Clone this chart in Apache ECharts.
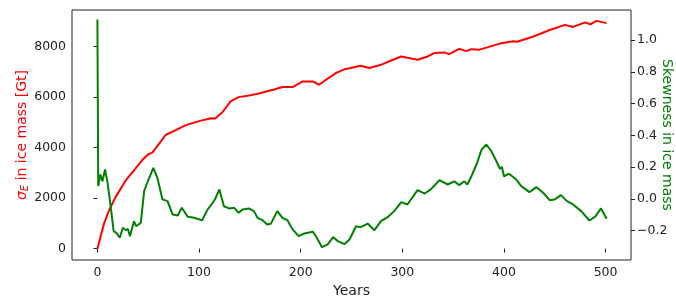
<!DOCTYPE html>
<html>
<head>
<meta charset="utf-8">
<script src="https://cdn.jsdelivr.net/npm/echarts@6/dist/echarts.min.js"></script>
<style>
    html, body { margin: 0; padding: 0; background: #fff; }
    #chart { width: 676px; height: 298px; }
</style>
</head>
<body>
<div id="chart"></div>
<script>
// years / sigma_E (Gt)
var sigmaYears = [0, 3, 6.5, 11.5, 18, 28, 36, 44, 50, 54, 61, 67, 77, 87, 100, 112, 116, 123, 131, 139, 149, 159, 167, 174, 182, 192, 202, 212, 218, 225, 235, 243, 249.5, 259, 267.5, 279, 289, 299, 315, 325, 332, 341.5, 346, 356, 363, 368, 376, 386, 396, 409, 413, 429, 445, 460, 468, 480, 485, 491, 501];
var sigmaVals = [0, 460, 990, 1520, 2050, 2710, 3100, 3500, 3740, 3800, 4170, 4500, 4690, 4890, 5050, 5160, 5150, 5400, 5830, 6000, 6060, 6140, 6230, 6300, 6400, 6400, 6620, 6620, 6490, 6690, 6960, 7100, 7150, 7240, 7150, 7280, 7450, 7610, 7480, 7610, 7750, 7770, 7700, 7910, 7820, 7900, 7880, 8000, 8120, 8210, 8190, 8400, 8660, 8860, 8780, 8960, 8880, 9020, 8930];

// years / skewness
var skewYears = [0, 0.8, 3, 5, 7.5, 10, 13, 16, 18.7, 22, 25, 28, 30, 32, 36, 38, 42.7, 46, 49, 55, 59, 64, 69, 74, 79, 83, 89, 95, 103, 108.5, 113.5, 116, 120, 124.5, 129.5, 134.5, 139, 143, 149, 154, 157.5, 162.5, 167, 170.6, 177, 182, 187, 192, 198, 203.5, 212, 215, 221, 226.6, 232, 236.5, 243, 248, 254.5, 259, 266, 272.5, 279, 286, 292, 299, 305, 315, 322, 328, 336.5, 344.6, 351, 356, 361, 364, 368, 373, 378, 382.6, 387.6, 392.5, 396, 398, 400, 405, 412, 417, 425, 432, 438.6, 445, 450, 456, 462, 468, 476, 484, 489.6, 495.5, 501];
var skewVals = [1.13, 0.08, 0.153, 0.11, 0.185, 0.10, -0.047, -0.204, -0.215, -0.246, -0.183, -0.198, -0.19, -0.236, -0.141, -0.173, -0.151, 0.048, 0.10, 0.195, 0.132, -0.004, -0.015, -0.099, -0.105, -0.057, -0.114, -0.12, -0.135, -0.067, -0.025, 0.0, 0.059, -0.047, -0.061, -0.057, -0.088, -0.067, -0.061, -0.078, -0.12, -0.135, -0.162, -0.158, -0.078, -0.12, -0.135, -0.193, -0.236, -0.219, -0.208, -0.236, -0.305, -0.288, -0.242, -0.267, -0.286, -0.257, -0.173, -0.179, -0.156, -0.198, -0.141, -0.114, -0.078, -0.021, -0.036, 0.054, 0.033, 0.059, 0.117, 0.09, 0.11, 0.086, 0.11, 0.09, 0.142, 0.216, 0.31, 0.342, 0.30, 0.237, 0.189, 0.2, 0.142, 0.158, 0.122, 0.08, 0.042, 0.073, 0.038, -0.009, -0.004, 0.023, -0.015, -0.036, -0.078, -0.137, -0.114, -0.061, -0.126];

var xTicks = [0, 100, 200, 300, 400, 500];
var sigmaTicks = [0, 2000, 4000, 6000, 8000];
var skewTicks = [-0.2, 0, 0.2, 0.4, 0.6, 0.8, 1.0];

function pairs(xs, ys) {
    return xs.map(function (x, i) { return [x, ys[i]]; });
}

var font = 'DejaVu Sans';
var ink = '#222';

echarts.init(document.getElementById('chart')).setOption({
    animation: false,
    textStyle: { fontFamily: font },
    grid: {
        left: 72, right: 45, top: 10, bottom: 38,
        outerBoundsMode: 'none',
        show: true, borderColor: ink, borderWidth: 1
    },
    xAxis: {
        type: 'value', min: -25, max: 525,
        name: 'Years', nameLocation: 'middle', nameGap: 24, nameMoveOverlap: false,
        nameTextStyle: { color: ink, fontSize: 14, fontFamily: font },
        axisLine: { show: false },
        splitLine: { show: false },
        axisTick: { show: true, length: 4, lineStyle: { color: ink }, customValues: xTicks },
        axisLabel: { color: ink, fontSize: 12.5, margin: 6, customValues: xTicks, formatter: function (v) { return String(v); } }
    },
    yAxis: [
        {
            type: 'value', min: -450, max: 9450, position: 'left',
            name: '{s|σ}{e|E}{t| in ice mass [Gt]}', nameLocation: 'middle', nameGap: 42, nameMoveOverlap: false,
            nameTextStyle: {
                color: '#ff0000', fontSize: 14, fontFamily: font,
                rich: {
                    s: { color: '#ff0000', fontSize: 14, fontStyle: 'italic', fontFamily: font },
                    e: { color: '#ff0000', fontSize: 10, fontStyle: 'italic', fontFamily: font, verticalAlign: 'bottom', padding: [6, 0, 0, 0] },
                    t: { color: '#ff0000', fontSize: 14, fontFamily: font }
                }
            },
            axisLine: { show: false },
            splitLine: { show: false },
            axisTick: { show: true, length: 4, lineStyle: { color: ink }, customValues: sigmaTicks },
            axisLabel: { color: ink, fontSize: 12.5, margin: 6, customValues: sigmaTicks, formatter: function (v) { return String(v); } }
        },
        {
            type: 'value', min: -0.386, max: 1.19, position: 'right',
            name: 'Skewness in ice mass', nameLocation: 'middle', nameGap: 29, nameRotate: -90, nameMoveOverlap: false,
            nameTextStyle: { color: '#008000', fontSize: 14, fontFamily: font },
            axisLine: { show: false },
            splitLine: { show: false },
            axisTick: { show: true, length: 4, lineStyle: { color: ink }, customValues: skewTicks },
            axisLabel: {
                color: ink, fontSize: 12.5, margin: 6, customValues: skewTicks,
                formatter: function (v) { return v.toFixed(1).replace('-', '\u2212'); }
            }
        }
    ],
    series: [
        {
            name: 'sigma', type: 'line', yAxisIndex: 0, showSymbol: false,
            data: pairs(sigmaYears, sigmaVals),
            lineStyle: { color: '#ff0000', width: 2 }
        },
        {
            name: 'skew', type: 'line', yAxisIndex: 1, showSymbol: false,
            data: pairs(skewYears, skewVals),
            lineStyle: { color: '#008000', width: 2 }
        }
    ]
});
</script>
</body>
</html>
